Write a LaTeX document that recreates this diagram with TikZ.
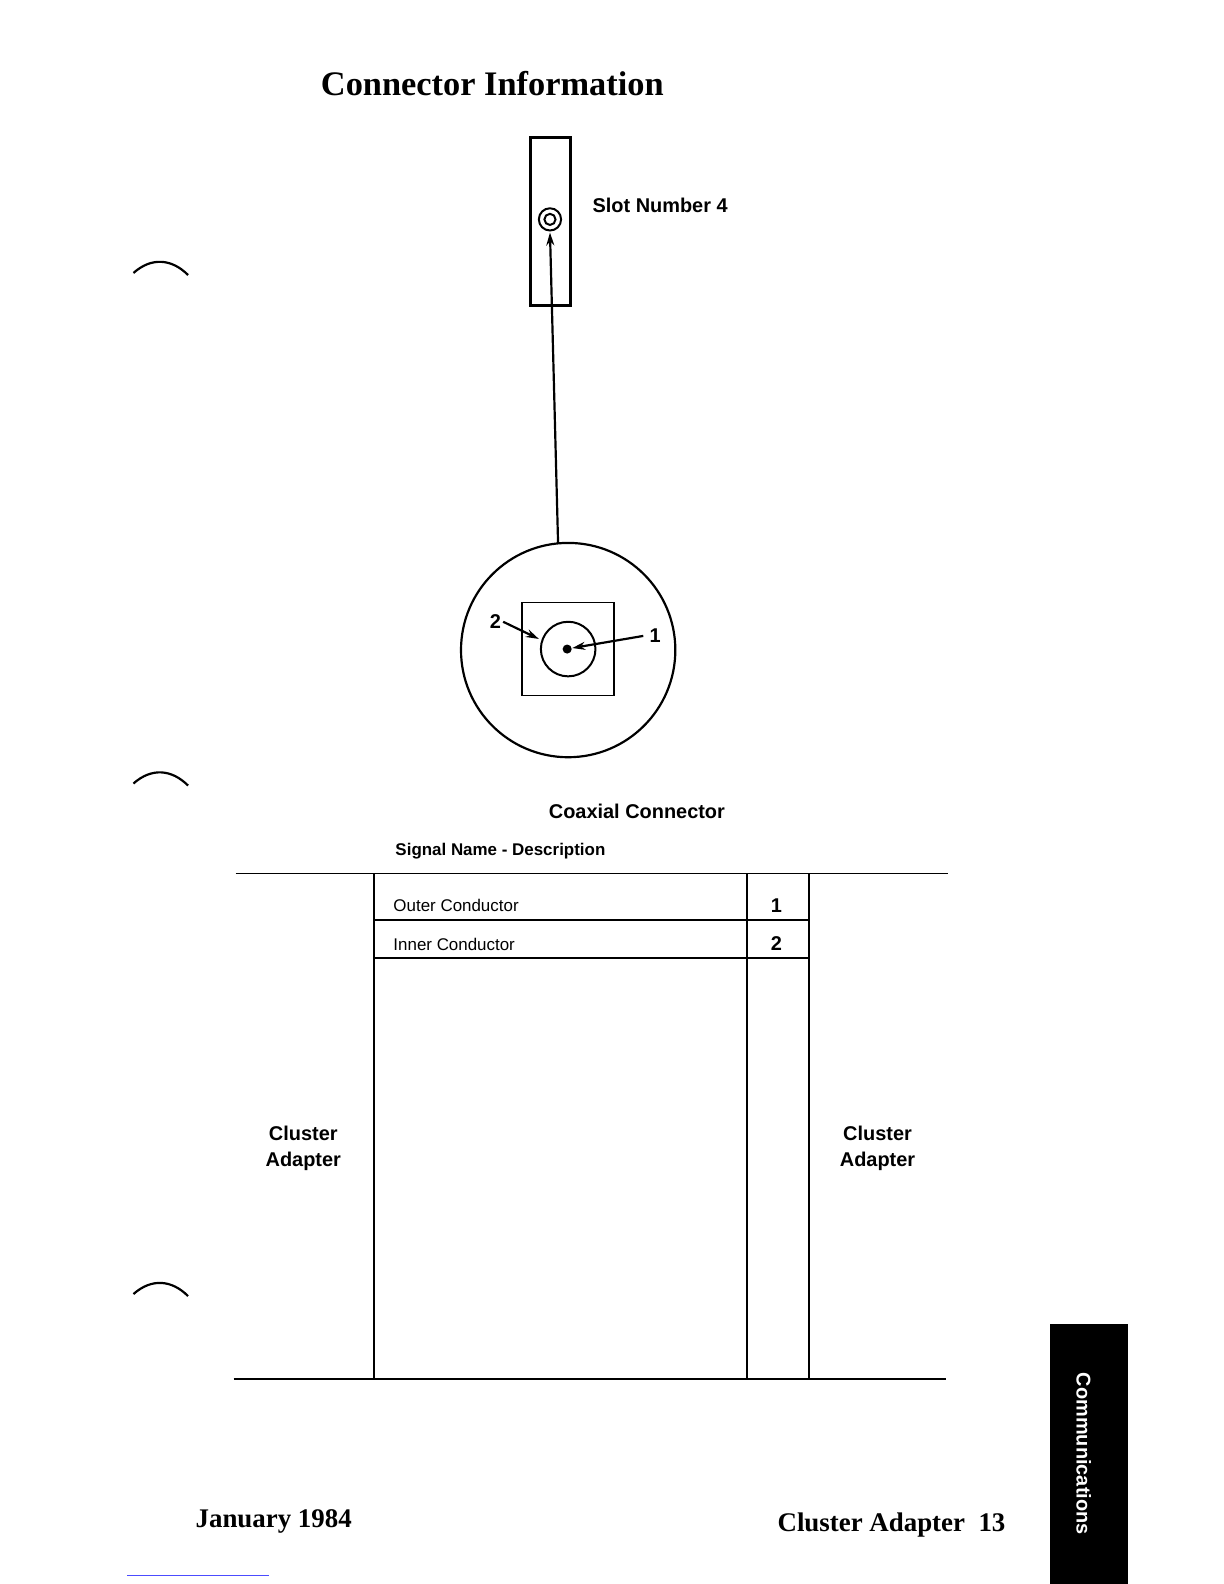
\documentclass[tikz,border=0pt]{standalone}
\usepackage{fontspec}
\setmainfont{Liberation Serif}
\newfontfamily\condfont{Liberation Sans}
\usetikzlibrary{positioning,arrows.meta}
\tikzset{
  lbl/.style={font=\condfont\bfseries\fontsize{20}{24}\selectfont, inner sep=0pt},
  cell/.style={font=\condfont\fontsize{17}{22}\selectfont, inner sep=0pt, anchor=west},
  pin/.style={-{Stealth[length=13pt,width=8pt]}, line width=2.2pt},
  rule/.style={line width=2pt}
}
\begin{document}
\begin{tikzpicture}[x=1.011bp,y=-1.011bp]
    % title
    \node[font=\bfseries\fontsize{34.5}{38}\selectfont, anchor=west] (title) at (314,83) {Connector Information};

    % slot
    \draw[line width=3pt] (525,136) rectangle (564,302);
    \draw[line width=2pt] (544,217) circle (11) circle (5.5);
    \coordinate (slotpin) at (544,230);
    \node[lbl, anchor=west] (slot) at (586,203) {Slot Number 4};

    % coaxial connector
    \draw[line width=2.2pt] (562,643) circle (106);
    \draw[line width=1.8pt] (516,596) rectangle (607,688);
    \draw[line width=2pt] (562,642) circle (27);
    \fill (561,642) circle (4.5) coordinate (centre);
    \coordinate (cable) at (552,537);
    \draw[pin] (cable) -- (slotpin);
    \node[lbl] (one) at (648,629) {1};
    \node[lbl] (two) at (490,615) {2};
    \draw[pin] (one.west) ++(-6,0) -- (566,641);
    \draw[pin] (two.east) ++(2,0) -- (533,632);
    \node[lbl] (coax) at (630,803) {Coaxial Connector};

    % table
    \node[lbl, anchor=west, font=\condfont\bfseries\fontsize{17}{20}\selectfont] (head) at (391,842) {Signal Name - Description};
    \draw[rule] (233,864) -- (938,864);
    \draw[rule] (231,1364) -- (936,1364);
    \foreach \x in {370,739,800}
      \draw[rule] (\x,864) -- (\x,1364);
    \foreach \y in {910,948}
      \draw[rule] (370,\y) -- (800,\y);
    \node[cell] (outer) at (389,896) {Outer Conductor};
    \node[cell] (inner) at (389,934) {Inner Conductor};
    \node[lbl] (pinone) at (768,896) {1};
    \node[lbl] (pintwo) at (768,933) {2};
    \node[lbl, align=center, font=\condfont\bfseries\fontsize{20}{26}\selectfont] (left) at (300,1136) {Cluster\\Adapter};
    \node[lbl, align=center, font=\condfont\bfseries\fontsize{20}{26}\selectfont] (right) at (868,1136) {Cluster\\Adapter};

    % binder holes
    \foreach \y in {270,775,1280}
      \draw[line width=2.2pt] (132,\y) .. controls (150,\y-16) and (170,\y-14) .. (186,\y+2);

    % footer
    \node[font=\bfseries\fontsize{27}{30}\selectfont, anchor=west] (date) at (190,1505) {January 1984};
    \node[font=\bfseries\fontsize{27}{30}\selectfont, anchor=east] (page) at (998,1508) {Cluster Adapter\ \ 13};
    \draw[blue!70, line width=0.8pt] (126,1558) -- (266,1558);

    % tab
    \fill (1039,1310) rectangle (1116,1567);
    \node[lbl, text=white, rotate=-90] (tab) at (1072,1438) {Communications};

    \pgfresetboundingbox
    \useasboundingbox (0,0) rectangle (1210.7,1566.8);
\end{tikzpicture}
\end{document}
